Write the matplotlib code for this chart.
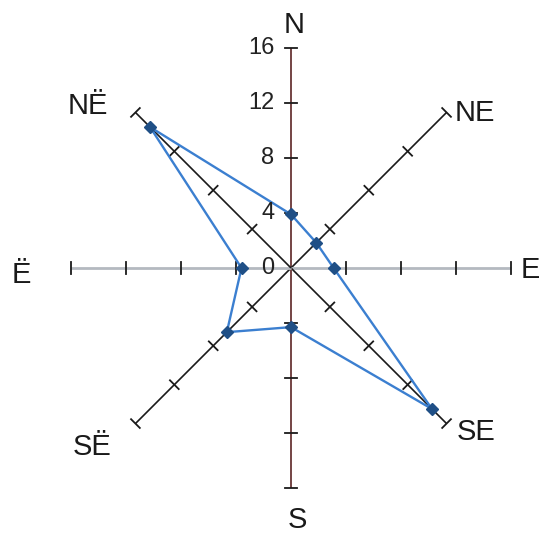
import numpy as np
import matplotlib
matplotlib.use("Agg")
import matplotlib.pyplot as plt

plt.rcParams['font.family'] = ['Liberation Sans', 'DejaVu Sans']

# Data
directions = ["N", "NE", "E", "SE", "S", "SË", "Ë", "NË"]
angles_deg = [90, 45, 0, -45, -90, -135, 180, 135]
values = [3.9, 2.6, 3.1, 14.5, 4.3, 6.6, 3.6, 14.5]
tick_values = [0, 4, 8, 12, 16]
rmax = 16

W, H = 539, 534
fig = plt.figure(figsize=(W / 100, H / 100), dpi=100)
ax = fig.add_axes([0, 0, 1, 1])
ax.set_aspect('equal')
ax.axis('off')

scale = 13.75  # px per unit
cx, cy = 291, 268  # center in pixels from top-left
ax.set_xlim(-cx / scale, (W - cx) / scale)
ax.set_ylim(-(H - cy) / scale, cy / scale)

axis_colors = {"N": "#5c2525", "S": "#5c2525", "E": "#b4b9c0", "Ë": "#b4b9c0"}
half_tick = 0.45
for d, a in zip(directions, angles_deg):
    t = np.deg2rad(a)
    ux, uy = np.cos(t), np.sin(t)
    col = axis_colors.get(d, "#1a1a1a")
    lw = 2.0 if d in ("E", "Ë") else 1.2
    ax.plot([0, rmax * ux], [0, rmax * uy], color=col, lw=lw, zorder=1,
            solid_capstyle='butt')
    px, py = -uy, ux
    for tv in tick_values[1:]:
        x0, y0 = tv * ux, tv * uy
        ax.plot([x0 - half_tick * px, x0 + half_tick * px],
                [y0 - half_tick * py, y0 + half_tick * py],
                color="#1a1a1a", lw=1.3, zorder=2)

# Data polygon
th = np.deg2rad(angles_deg)
xs = np.array(values) * np.cos(th)
ys = np.array(values) * np.sin(th)
ax.plot(np.append(xs, xs[0]), np.append(ys, ys[0]), color="#3b7fd0", lw=1.7, zorder=3)
ax.plot(xs, ys, linestyle='none', marker='D', ms=6.5, color="#1f4f86",
        markeredgecolor="#1f4f86", zorder=4)

# Radial tick labels along N axis
for tv in tick_values:
    ax.text(-1.2, tv, str(tv), ha='right', va='center', fontsize=17,
            color="#222222", zorder=5)

# Direction labels (pixel positions)
label_pos = {
    "N": (294, 25, 'center'),
    "NE": (455, 113, 'left'),
    "E": (521, 270, 'left'),
    "SE": (457, 432, 'left'),
    "S": (297, 520, 'center'),
    "SË": (92, 447, 'center'),
    "Ë": (21, 275, 'center'),
    "NË": (88, 106, 'center'),
}
for d in directions:
    x, y, ha = label_pos[d]
    fig.text(x / W, 1 - y / H, d, ha=ha, va='center', fontsize=21, color="#1a1a1a")

fig.savefig("out.png", dpi=100, facecolor="white")
